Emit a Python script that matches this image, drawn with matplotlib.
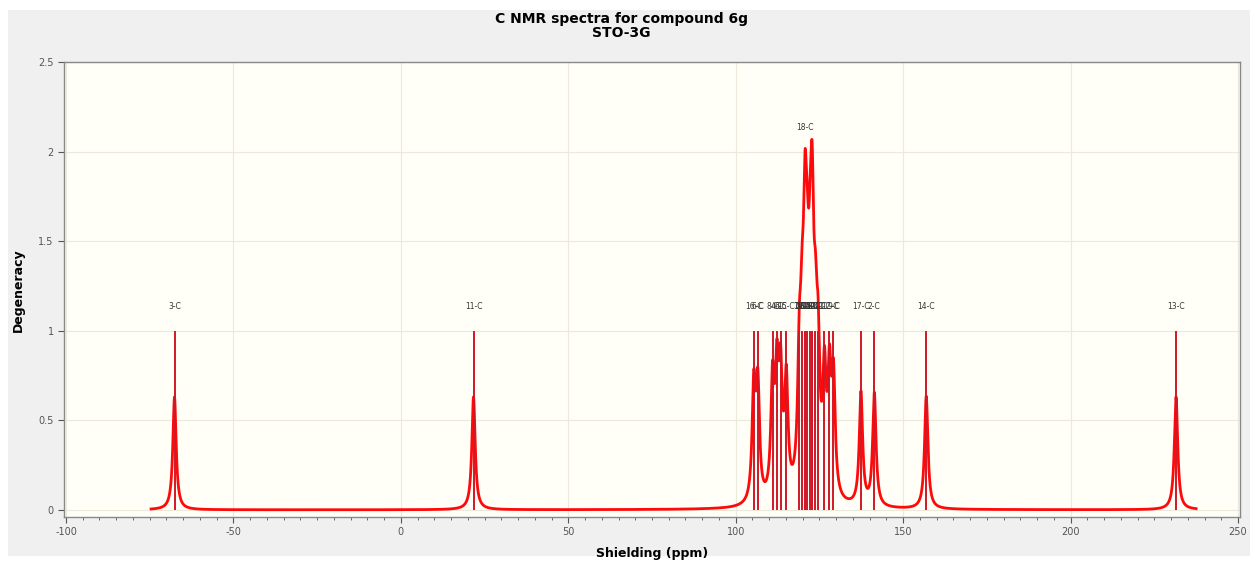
import numpy as np
import matplotlib
matplotlib.use("Agg")
import matplotlib.pyplot as plt
from matplotlib.patches import Rectangle
from matplotlib.ticker import MultipleLocator

plt.rcParams["axes.unicode_minus"] = False

# ---- data (ppm, degeneracy) ----
peak_ppm = [-67.6, 21.7,
            105.4, 106.6, 111.0, 112.3, 113.4, 115.1,
            119.0, 119.8, 120.6, 120.8, 121.4, 122.2, 122.75, 122.9, 123.8, 124.6,
            126.5, 128.0, 129.2,
            137.4, 141.4, 156.9, 231.5]
peak_deg = [1] * len(peak_ppm)
peak_labels = ["3-C", "11-C",
               "16-C", "6-C", "8-C", "4-C", "6-C", "15-C",
               "7-C", "19-C", "20-C", "18-C", "21-C", "22-C", "5-C", "23-C", "10-C", "24-C",
               "1-C", "12-C", "9-C",
               "17-C", "2-C", "14-C", "13-C"]
top_label = "18-C"
top_label_ppm = 120.8

title_text = "C NMR spectra for compound 6g\nSTO-3G"
xlabel_text = "Shielding (ppm)"
ylabel_text = "Degeneracy"
x_ticks = [-100, -50, 0, 50, 100, 150, 200, 250]
y_ticks = [0, 0.5, 1, 1.5, 2, 2.5]
y_ticklabels = ["0", "0.5", "1", "1.5", "2", "2.5"]

# ---- broadened spectrum (Lorentzian) ----
gamma = 0.6
amp = 0.63
x = np.linspace(min(peak_ppm) - 7, max(peak_ppm) + 6, 20000)
y = np.zeros_like(x)
for p, d in zip(peak_ppm, peak_deg):
    y += amp * d * gamma**2 / ((x - p)**2 + gamma**2)

W, H = 1258, 564
fig = plt.figure(figsize=(W / 100, H / 100), dpi=100, facecolor="white")
bg = Rectangle((8 / W, 8 / H), (W - 16) / W, (H - 18) / H,
               transform=fig.transFigure, facecolor="#f0f0f0",
               edgecolor="none", zorder=-10)
fig.add_artist(bg)

ax = fig.add_axes([64 / W, 1 - 517 / H, 1176 / W, 455 / H])
ax.set_zorder(5)
ax.set_facecolor("#fffff7")
ax.set_xlim(-100.6, 250.6)
ax.set_ylim(-0.04, 2.5)

ax.grid(True, which="major", color="#ebe8dc", linewidth=0.8)
ax.set_axisbelow(True)

ax.plot(x, y, color="#ff0a0a", linewidth=2.0, zorder=3)
ax.vlines(peak_ppm, 0, peak_deg, color="#d01828", linewidth=1.4, zorder=4)

for p, lab in zip(peak_ppm, peak_labels):
    ax.text(p, 1.11, lab, ha="center", va="bottom", fontsize=5.5, color="#333333", zorder=5)
ax.text(top_label_ppm, 2.11, top_label, ha="center", va="bottom", fontsize=5.5, color="#333333", zorder=5)

ax.set_xticks(x_ticks)
ax.xaxis.set_minor_locator(MultipleLocator(5))
ax.set_yticks(y_ticks)
ax.set_yticklabels(y_ticklabels)
ax.tick_params(axis="both", which="major", labelsize=7, colors="#555555", length=4, direction="out")
ax.tick_params(axis="x", which="minor", length=2.5, color="#555555")
for s in ax.spines.values():
    s.set_color("#888888")
    s.set_linewidth(1.0)

fig.text(0.494, 1 - 26 / H, title_text, ha="center", va="center", fontsize=10,
         fontweight="bold", linespacing=1.05, zorder=6)
fig.text(652 / W, 1 - 554 / H, xlabel_text, ha="center", va="center", fontsize=9,
         fontweight="bold", zorder=6)
fig.text(18 / W, 1 - 290 / H, ylabel_text, ha="center", va="center", fontsize=9,
         fontweight="bold", rotation=90, zorder=6)

fig.savefig("out.png", dpi=100, facecolor=fig.get_facecolor())
